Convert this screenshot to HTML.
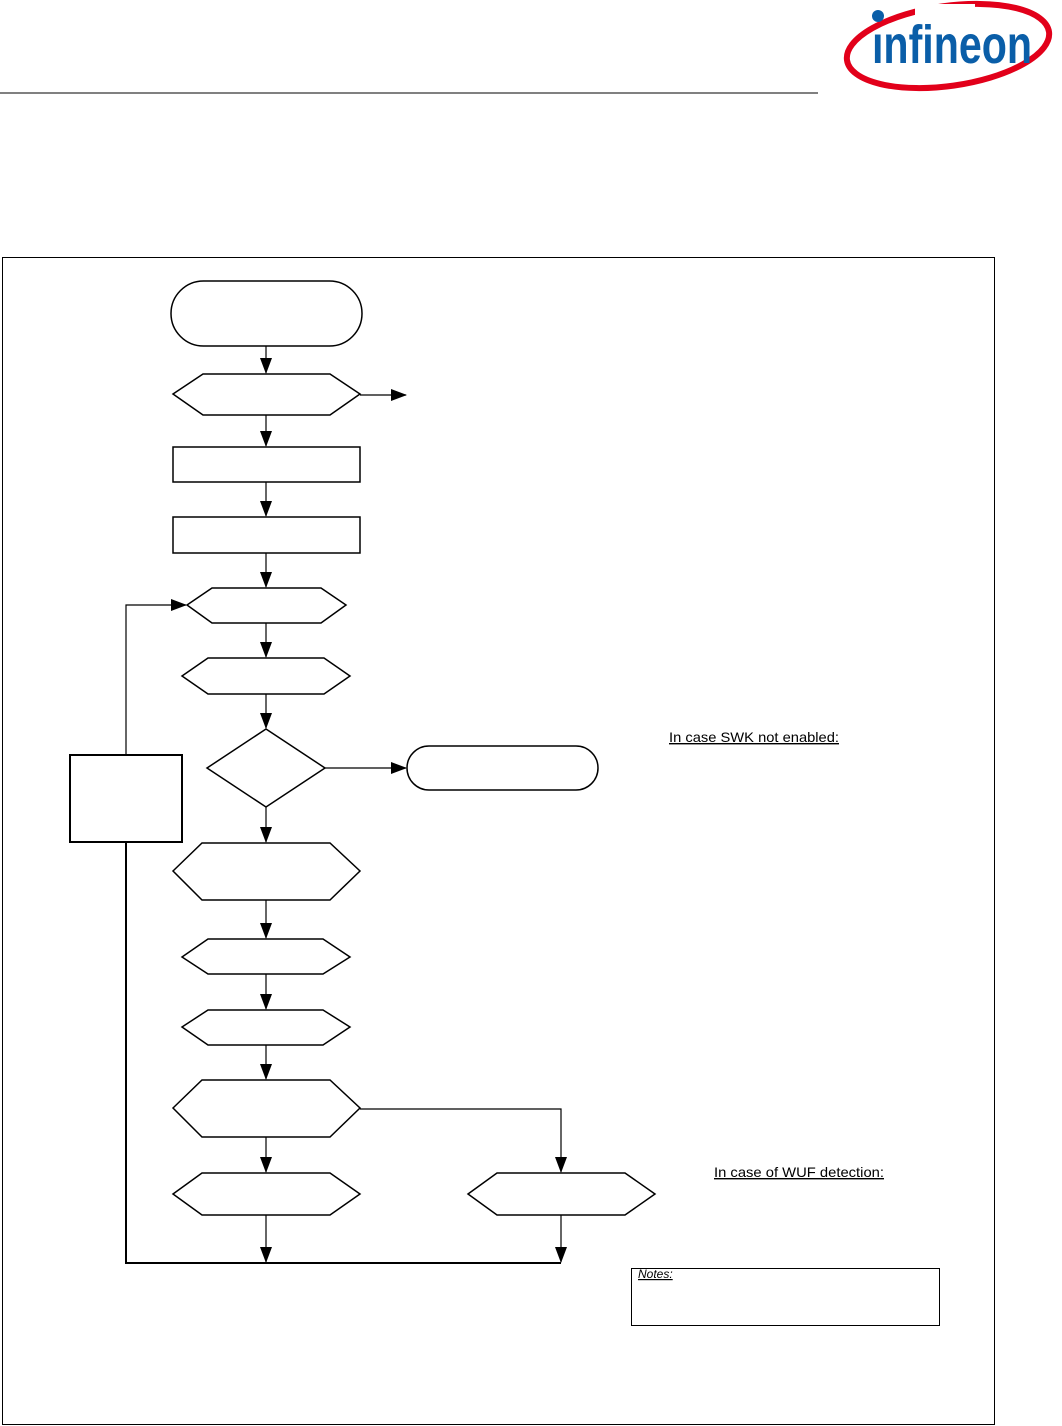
<!DOCTYPE html>
<html><head><meta charset="utf-8"><style>
html,body{margin:0;padding:0;background:#fff;width:1062px;height:1426px;overflow:hidden}
svg{display:block}
</style></head><body>
<svg width="1062" height="1426" viewBox="0 0 1062 1426" xmlns="http://www.w3.org/2000/svg">
<defs>
<marker id="a" markerWidth="16" markerHeight="12" refX="15" refY="6" orient="auto" markerUnits="userSpaceOnUse">
<path d="M0,0 L16,6 L0,12 Z" fill="#000"/></marker>
</defs>
<line x1="0" y1="93" x2="818" y2="93" stroke="#000" stroke-width="1"/>
<ellipse cx="948" cy="46" rx="102" ry="40" fill="none" stroke="#e2001a" stroke-width="6" transform="rotate(-8 948 46)"/>
<rect x="915" y="4" width="60" height="14" fill="#fff"/>
<circle cx="878" cy="16" r="6" fill="#0a5ea8"/>
<text x="872" y="63" font-family="Liberation Sans, sans-serif" font-size="54" font-weight="bold" fill="#0a5ea8" textLength="160" lengthAdjust="spacingAndGlyphs">ınfineon</text>
<rect x="2.5" y="257.5" width="992" height="1167" fill="none" stroke="#000" stroke-width="1"/>
<g fill="none" stroke="#000" stroke-width="1.5">
<rect x="171" y="281" width="191" height="65" rx="32.5"/>
<polygon points="173,394 203,374 330,374 360,394 330,415 203,415"/>
<rect x="173" y="447" width="187" height="35"/>
<rect x="173" y="517" width="187" height="36"/>
<polygon points="187,605 212,588 321,588 346,605 321,623 212,623"/>
<polygon points="182,676 208,658 324,658 350,676 324,694 208,694"/>
<polygon points="266,729 325,768 266,807 207,768"/>
<rect x="407" y="746" width="191" height="44" rx="22"/>
<rect x="70" y="755" width="112" height="87" stroke-width="2"/>
<polygon points="173,871 202,843 330,843 360,871 330,900 202,900"/>
<polygon points="182,957 208,939 323,939 350,957 323,974 208,974"/>
<polygon points="182,1027 208,1010 323,1010 350,1027 323,1045 208,1045"/>
<polygon points="173,1108 202,1080 330,1080 360,1108 330,1137 202,1137"/>
<polygon points="173,1194 202,1173 330,1173 360,1194 330,1215 202,1215"/>
<polygon points="468,1194 497,1173 625,1173 655,1194 625,1215 497,1215"/>
</g>
<g fill="none" stroke="#000" stroke-width="1.2">
<line x1="266" y1="346" x2="266" y2="373" marker-end="url(#a)"/>
<line x1="360" y1="395" x2="406" y2="395" marker-end="url(#a)"/>
<line x1="266" y1="415" x2="266" y2="446" marker-end="url(#a)"/>
<line x1="266" y1="482" x2="266" y2="516" marker-end="url(#a)"/>
<line x1="266" y1="553" x2="266" y2="587" marker-end="url(#a)"/>
<line x1="266" y1="623" x2="266" y2="657" marker-end="url(#a)"/>
<line x1="266" y1="694" x2="266" y2="728" marker-end="url(#a)"/>
<line x1="325" y1="768" x2="406" y2="768" marker-end="url(#a)"/>
<line x1="266" y1="807" x2="266" y2="842" marker-end="url(#a)"/>
<line x1="266" y1="900" x2="266" y2="938" marker-end="url(#a)"/>
<line x1="266" y1="974" x2="266" y2="1009" marker-end="url(#a)"/>
<line x1="266" y1="1045" x2="266" y2="1079" marker-end="url(#a)"/>
<line x1="266" y1="1137" x2="266" y2="1172" marker-end="url(#a)"/>
<polyline points="360,1109 561,1109 561,1172" marker-end="url(#a)"/>
<line x1="266" y1="1215" x2="266" y2="1262" marker-end="url(#a)"/>
<line x1="561" y1="1215" x2="561" y2="1262" marker-end="url(#a)"/>
<polyline points="126,755 126,605 186,605" marker-end="url(#a)"/>
</g>
<polyline points="126,843 126,1263 561,1263" fill="none" stroke="#000" stroke-width="2"/>
<rect x="631.5" y="1268.5" width="308" height="57" fill="none" stroke="#000" stroke-width="1"/>
<g font-family="Liberation Sans, sans-serif" fill="#000">
<text x="669" y="742" font-size="14" text-decoration="underline" textLength="170" lengthAdjust="spacingAndGlyphs">In case SWK not enabled:</text>
<text x="714" y="1177" font-size="14" text-decoration="underline" textLength="170" lengthAdjust="spacingAndGlyphs">In case of WUF detection:</text>
<text x="638" y="1278" font-size="12" font-style="italic" text-decoration="underline">Notes:</text>
</g>
</svg>
</body></html>
